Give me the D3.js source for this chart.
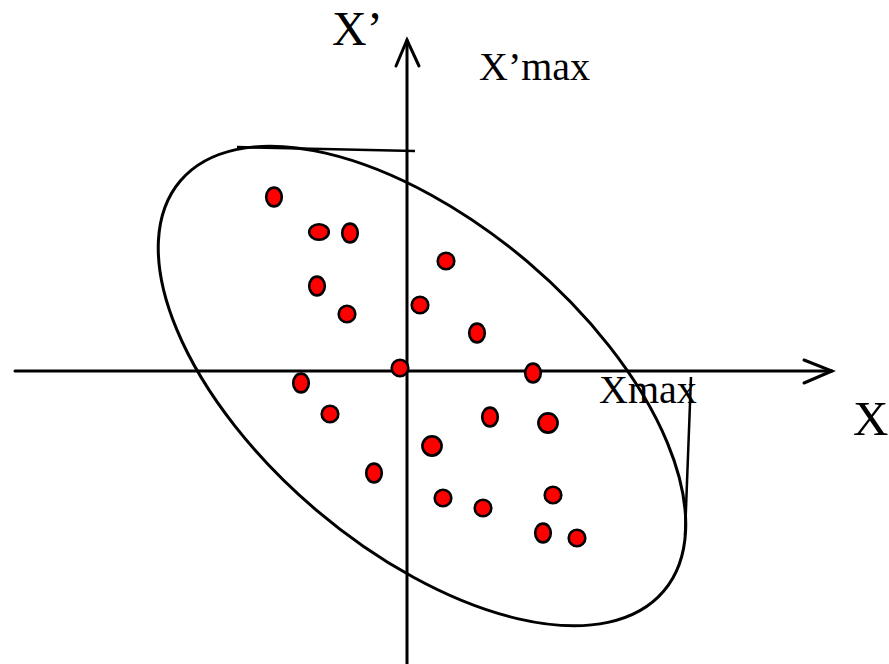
<!DOCTYPE html>
<html>
<head>
<meta charset="utf-8">
<script src="https://cdn.jsdelivr.net/npm/d3@7"></script>
<style>
  html, body { margin: 0; padding: 0; background: #fff; }
  svg { display: block; }
</style>
</head>
<body>
<div id="chart"></div>
<script>
// scatter points, in data units (origin = axis crossing)
const pointX = [-13.3, -8.8, -5.7, 3.9, -9.0, 1.3, -6.0, 7.0, -0.7, 12.6, -10.6,
                -7.7, 8.3, 14.1, 2.5, -3.3, 3.6, 7.6, 14.6, 13.6, 17.0]
const pointY = [17.4, 13.9, 13.8, 11.0, 8.5, 6.6, 5.7, 3.8, 0.3, -0.2, -1.2,
                -4.3, -4.6, -5.2, -7.5, -10.2, -12.7, -13.7, -12.4, -16.2, -16.7]

// axis extents
const xAxisRange = [-39.2, 42.5]
const yAxisRange = [-29.3, 33.1]

// ellipse: center, semi-axes, rotation (deg)
const ellipseCenter = [1.5, -1.5]
const ellipseAxes = [31.7, 16.3]
const ellipseAngle = 40.3

// tangent lines marking the extremes
const xPrimeMaxLine = [[-17.0, 22.4], [0.8, 22.0]]
const xMaxLine = [[28.4, -0.6], [27.8, -16.4]]

const labels = ["X\u2019", "X\u2019max", "Xmax", "X"]

// dot outline shapes (style only)
const dotShape = ["tall", "wide", "tall", "round", "tall", "round", "round", "tall", "round", "tall", "tall",
                  "round", "tall", "big", "big", "tall", "round", "round", "round", "tall", "round"]
const shapeR = {
    tall: [7.8, 9.4],
    wide: [9.8, 7.8],
    round: [8.3, 8.3],
    big: [9.6, 9.6]
}

const width = 889, height = 664

const x = d3.scaleLinear().domain([-40, 40]).range([7, 807])
const y = d3.scaleLinear().domain([-30, 30]).range([671, 71])

const svg = d3.select("#chart")
    .append("svg")
    .attr("width", width)
    .attr("height", height)

const font = "'Liberation Serif', 'Times New Roman', serif"

// ellipse
const cx = x(ellipseCenter[0]), cy = y(ellipseCenter[1])
svg.append("ellipse")
    .attr("cx", cx)
    .attr("cy", cy)
    .attr("rx", x(ellipseAxes[0]) - x(0))
    .attr("ry", x(ellipseAxes[1]) - x(0))
    .attr("transform", `rotate(${ellipseAngle},${cx},${cy})`)
    .attr("fill", "none")
    .attr("stroke", "#000")
    .attr("stroke-width", 3)

// tangent lines
const line = d3.line().x(d => x(d[0])).y(d => y(d[1]))
svg.selectAll("path.tangent")
    .data([xPrimeMaxLine, xMaxLine])
    .join("path")
    .attr("class", "tangent")
    .attr("d", line)
    .attr("fill", "none")
    .attr("stroke", "#000")
    .attr("stroke-width", 2.5)

// axes
const axes = svg.append("g")
    .attr("stroke", "#000")
    .attr("stroke-width", 3)
    .attr("fill", "none")
    .attr("stroke-linecap", "round")
    .attr("stroke-linejoin", "miter")

axes.append("line")
    .attr("x1", x(xAxisRange[0])).attr("y1", y(0))
    .attr("x2", x(xAxisRange[1])).attr("y2", y(0))
axes.append("polyline")
    .attr("points", `${x(xAxisRange[1]) - 28},${y(0) - 11} ${x(xAxisRange[1])},${y(0)} ${x(xAxisRange[1]) - 28},${y(0) + 12}`)

axes.append("line")
    .attr("x1", x(0)).attr("y1", y(yAxisRange[0]))
    .attr("x2", x(0)).attr("y2", y(yAxisRange[1]))
axes.append("polyline")
    .attr("points", `${x(0) - 11},${y(yAxisRange[1]) + 26} ${x(0)},${y(yAxisRange[1])} ${x(0) + 12},${y(yAxisRange[1]) + 26}`)

// points
svg.append("g")
    .selectAll("ellipse")
    .data(d3.range(pointX.length))
    .join("ellipse")
    .attr("cx", i => x(pointX[i]))
    .attr("cy", i => y(pointY[i]))
    .attr("rx", i => shapeR[dotShape[i]][0])
    .attr("ry", i => shapeR[dotShape[i]][1])
    .attr("fill", "#ff0000")
    .attr("stroke", "#000")
    .attr("stroke-width", 2.6)

// labels
const labelPos = [[332, 45, 48], [479, 80, 40], [599, 403, 40], [853, 435, 49]]
svg.append("g")
    .selectAll("text")
    .data(labels)
    .join("text")
    .attr("x", (d, i) => labelPos[i][0])
    .attr("y", (d, i) => labelPos[i][1])
    .attr("font-size", (d, i) => labelPos[i][2])
    .attr("font-family", font)
    .attr("fill", "#000")
    .text(d => d)
</script>
</body>
</html>
